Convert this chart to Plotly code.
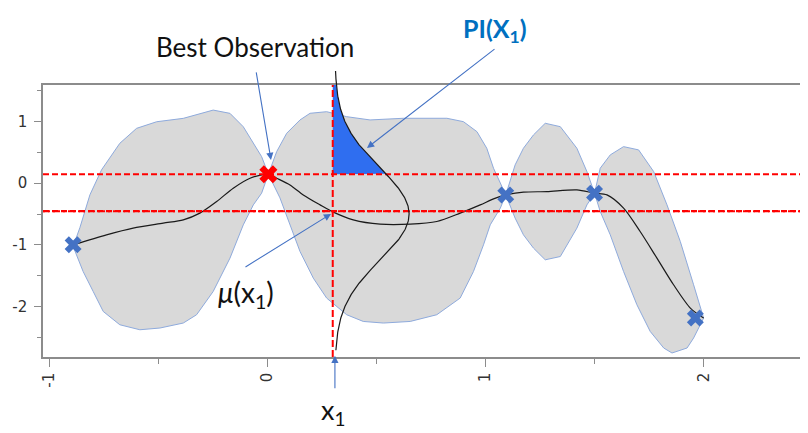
import numpy as np
import plotly.graph_objects as go

# ---------------- data ----------------
obs_x = [-0.890, 1.093, 1.500, 1.962]
obs_y = [-1.000, -0.190, -0.162, -2.188]
best_x = [0.005]
best_y = [0.146]

upper_x = [-0.890, -0.859, -0.813, -0.760, -0.676, -0.599, -0.507, -0.385, -0.248, -0.171,
           -0.110, -0.064, -0.026, 0.005, 0.043, 0.089, 0.150, 0.196, 0.272, 0.364,
           0.471, 0.624, 0.823, 0.899, 0.961, 1.006, 1.037, 1.093, 1.136, 1.174,
           1.220, 1.274, 1.343, 1.419, 1.465, 1.500, 1.526, 1.572, 1.633, 1.702,
           1.771, 1.832, 1.893, 1.954, 2.000]
upper_y = [-1.026, -0.723, -0.189, 0.215, 0.647, 0.890, 0.997, 1.052, 1.186, 1.133,
           0.916, 0.647, 0.431, 0.146, 0.512, 0.810, 1.026, 1.134, 1.160, 1.079,
           1.026, 1.053, 1.053, 0.998, 0.836, 0.567, 0.243, -0.190, 0.297, 0.567,
           0.783, 0.972, 0.917, 0.567, 0.188, -0.162, 0.243, 0.459, 0.593, 0.540,
           0.188, -0.352, -0.946, -1.648, -2.183]

lower_x = [-0.890, -0.844, -0.798, -0.752, -0.676, -0.584, -0.492, -0.385, -0.324, -0.248,
           -0.171, -0.110, -0.064, -0.026, 0.005, 0.058, 0.104, 0.150, 0.211, 0.272,
           0.364, 0.440, 0.532, 0.655, 0.777, 0.884, 0.945, 0.991, 1.022, 1.068,
           1.093, 1.136, 1.174, 1.220, 1.274, 1.343, 1.419, 1.465, 1.500, 1.526,
           1.572, 1.633, 1.694, 1.755, 1.817, 1.855, 1.924, 1.954, 2.000]
lower_y = [-1.026, -1.433, -1.757, -2.081, -2.297, -2.378, -2.350, -2.269, -2.134, -1.757,
           -1.216, -0.676, -0.352, -0.162, 0.146, -0.238, -0.675, -1.108, -1.540, -1.864,
           -2.134, -2.243, -2.269, -2.243, -2.134, -1.864, -1.433, -1.000, -0.675, -0.405,
           -0.190, -0.567, -0.838, -1.053, -1.243, -1.190, -0.729, -0.352, -0.162, -0.460,
           -0.838, -1.433, -1.972, -2.405, -2.674, -2.755, -2.674, -2.512, -2.188]

mean_x = [-0.890, -0.737, -0.615, -0.477, -0.385, -0.309, -0.232, -0.156, -0.079, 0.005,
          0.043, 0.104, 0.165, 0.242, 0.303, 0.394, 0.517, 0.655, 0.777, 0.884,
          0.976, 1.040, 1.093, 1.174, 1.282, 1.419, 1.500, 1.557, 1.633, 1.709,
          1.786, 1.862, 1.939, 2.000]
mean_y = [-1.000, -0.838, -0.729, -0.648, -0.595, -0.486, -0.298, -0.081, 0.081, 0.146,
          0.081, -0.028, -0.190, -0.352, -0.470, -0.595, -0.665, -0.665, -0.622, -0.486,
          -0.352, -0.250, -0.190, -0.146, -0.136, -0.109, -0.162, -0.190, -0.405, -0.784,
          -1.216, -1.648, -2.026, -2.188]

X1 = 0.30            # candidate point x1
MU_X1 = -0.454       # predicted mean at x1
BEST = 0.146         # best observed value
PDF_MU = -0.50       # predictive distribution at x1
PDF_SIGMA = 0.75
PDF_WIDTH = 0.34     # drawn width of the density (x units)
PDF_BASE = X1 + 0.01
PDF_Y_LO, PDF_Y_HI = -2.71, 1.82

x_ticks = [-1, 0, 1, 2]
x_ticktext = ["-1", "0", "1", "2"]
y_ticks = [-2, -1, 0, 1]
y_ticktext = ["-2", "-1", "0", "1"]

# ---------------- layout geometry ----------------
OFF = 8                      # page body margin of the html output
W, H = 808, 433
PLOT_LEFT_PX, PLOT_TOP_PX, PLOT_BOTTOM_PX = 43, 85, 357   # in page pixels
EXTRA_TOP_PX = 60                                          # room for density above frame
M_L = PLOT_LEFT_PX - OFF
M_T = EXTRA_TOP_PX - OFF
M_B = H - (PLOT_BOTTOM_PX - OFF)
M_R = 0
X_RANGE = [-1.028, 2.515]
Y_RANGE = [-2.82, 1.593]
plot_h = H - M_T - M_B
main_h = PLOT_BOTTOM_PX - PLOT_TOP_PX
dom_top = main_h / plot_h
y2_top = Y_RANGE[0] + (Y_RANGE[1] - Y_RANGE[0]) * plot_h / main_h

BAND_FILL = "#D9D9D9"
BAND_LINE = "rgb(142,170,220)"
BLUE = "#4472C4"
RED = "#FF0000"
PI_FILL = "#2F6EF0"

# density curve at x1
pdf_y = np.linspace(PDF_Y_LO, PDF_Y_HI, 300)
pdf_x = PDF_BASE + PDF_WIDTH * np.exp(-0.5 * ((pdf_y - PDF_MU) / PDF_SIGMA) ** 2)

# PI region (density above the best value, inside the frame)
mask = (pdf_y >= BEST) & (pdf_y <= Y_RANGE[1])
pi_y = np.concatenate([[BEST], pdf_y[mask], [Y_RANGE[1], BEST]])
pi_x = np.concatenate([[X1], pdf_x[mask], [X1, X1]])

fig = go.Figure()

# confidence band
fig.add_trace(go.Scatter(
    x=upper_x + lower_x[::-1], y=upper_y + lower_y[::-1],
    mode="lines", fill="toself", fillcolor=BAND_FILL,
    line=dict(color=BAND_LINE, width=1), hoverinfo="skip", showlegend=False))

# PI area
fig.add_trace(go.Scatter(
    x=pi_x, y=pi_y, mode="lines", fill="toself", fillcolor=PI_FILL,
    line=dict(color=PI_FILL, width=0), hoverinfo="skip", showlegend=False))

# mean curve
fig.add_trace(go.Scatter(
    x=mean_x, y=mean_y, mode="lines",
    line=dict(color="#1a1a1a", width=1.2, shape="spline", smoothing=0.8),
    showlegend=False))

# red reference lines
fig.add_trace(go.Scatter(x=X_RANGE, y=[BEST, BEST], mode="lines",
                         line=dict(color=RED, width=2, dash="6px,3px"), showlegend=False))
fig.add_trace(go.Scatter(x=X_RANGE, y=[MU_X1, MU_X1], mode="lines",
                         line=dict(color=RED, width=2.4, dash="6px,3px"), showlegend=False))
fig.add_trace(go.Scatter(x=X_RANGE, y=[MU_X1, MU_X1], mode="lines",
                         line=dict(color=RED, width=2, dash="2px,3px"), showlegend=False))
fig.add_trace(go.Scatter(x=[X1, X1], y=Y_RANGE, mode="lines",
                         line=dict(color=RED, width=2, dash="7px,3px"), showlegend=False))

# observations
fig.add_trace(go.Scatter(x=obs_x, y=obs_y, mode="markers",
                         marker=dict(symbol="x", size=15, color=BLUE, line=dict(width=0)),
                         showlegend=False))
fig.add_trace(go.Scatter(x=best_x, y=best_y, mode="markers",
                         marker=dict(symbol="x", size=16, color=RED, line=dict(width=0)),
                         showlegend=False))

# density curve on a taller overlay subplot so it can rise above the frame
fig.add_trace(go.Scatter(x=pdf_x, y=pdf_y, mode="lines",
                         line=dict(color="#1a1a1a", width=1.2),
                         xaxis="x2", yaxis="y2", showlegend=False))

axis_line = "#8c8c8c"
tick_font = dict(family="DejaVu Sans", size=15, color="#333333")

fig.update_layout(
    width=W, height=H,
    margin=dict(l=M_L, r=M_R, t=M_T, b=M_B, pad=0, autoexpand=False),
    paper_bgcolor="white", plot_bgcolor="rgba(0,0,0,0)",
    xaxis=dict(domain=[0, 1], range=X_RANGE, showgrid=False, zeroline=False,
               automargin=False,
               showline=True, linecolor=axis_line, linewidth=1.5, mirror=True,
               tickmode="array", tickvals=x_ticks, ticktext=x_ticktext,
               ticks="outside", ticklen=8, tickcolor=axis_line, tickwidth=1.2,
               tickangle=-90, tickfont=tick_font,
               minor=dict(dtick=0.5, tick0=0, ticks="outside", ticklen=5,
                          tickcolor=axis_line, tickwidth=1.2, showgrid=False)),
    yaxis=dict(domain=[0, dom_top], range=Y_RANGE, showgrid=False, zeroline=False,
               automargin=False,
               showline=True, linecolor=axis_line, linewidth=1.5, mirror=False,
               tickmode="array", tickvals=y_ticks, ticktext=y_ticktext,
               ticks="outside", ticklen=7, tickcolor=axis_line, tickwidth=1.2,
               tickfont=tick_font, ticklabelstandoff=4,
               minor=dict(dtick=0.5, tick0=0, ticks="outside", ticklen=4,
                          tickcolor=axis_line, tickwidth=1.2, showgrid=False)),
    xaxis2=dict(domain=[0, 1], range=X_RANGE, visible=False, anchor="y2", automargin=False),
    yaxis2=dict(domain=[0, 1], range=[Y_RANGE[0], y2_top], visible=False, anchor="x2",
                automargin=False),
    showlegend=False,
)


def py_to_paper(py):
    """page pixel row -> paper y coordinate"""
    return (PLOT_BOTTOM_PX - py) / plot_h


txt_font = dict(family="Lato", size=26, color="#111111")
arrow = dict(showarrow=True, arrowhead=2, arrowsize=1.3, arrowwidth=1.1, arrowcolor=BLUE,
             text="", xref="x", yref="y")

annotations = [
    dict(x=-0.056, y=py_to_paper(47), xref="x", yref="paper", yanchor="middle",
         xanchor="center", text="Best Observation", showarrow=False, font=txt_font),
    dict(x=1.045, y=py_to_paper(30), xref="x", yref="paper", yanchor="middle",
         xanchor="center", text="<b>PI(X<sub>1</sub>)</b>", showarrow=False,
         font=dict(family="Lato", size=25, color="#0070C0")),
    dict(x=-0.098, y=-1.80, xref="x", yref="y", yanchor="middle", xanchor="center",
         text="<i>μ</i>(x<sub>1</sub>)", showarrow=False,
         font=dict(family="Lato", size=28, color="#111111")),
    dict(x=0.301, y=py_to_paper(411), xref="x", yref="paper", yanchor="middle",
         xanchor="center", text="x<sub>1</sub>", showarrow=False,
         font=dict(family="Lato", size=27, color="#111111")),
    dict(arrow, x=0.017, y=0.378, ax=-15, ay=-89),
    dict(arrow, x=0.457, y=0.572, ax=129, ay=-100),
    dict(arrow, x=0.292, y=-0.498, ax=-87, ay=54),
    dict(arrow, x=0.31, y=-2.80, ax=0, ay=34),
]
fig.update_layout(annotations=annotations)

fig.write_html("out.html")
